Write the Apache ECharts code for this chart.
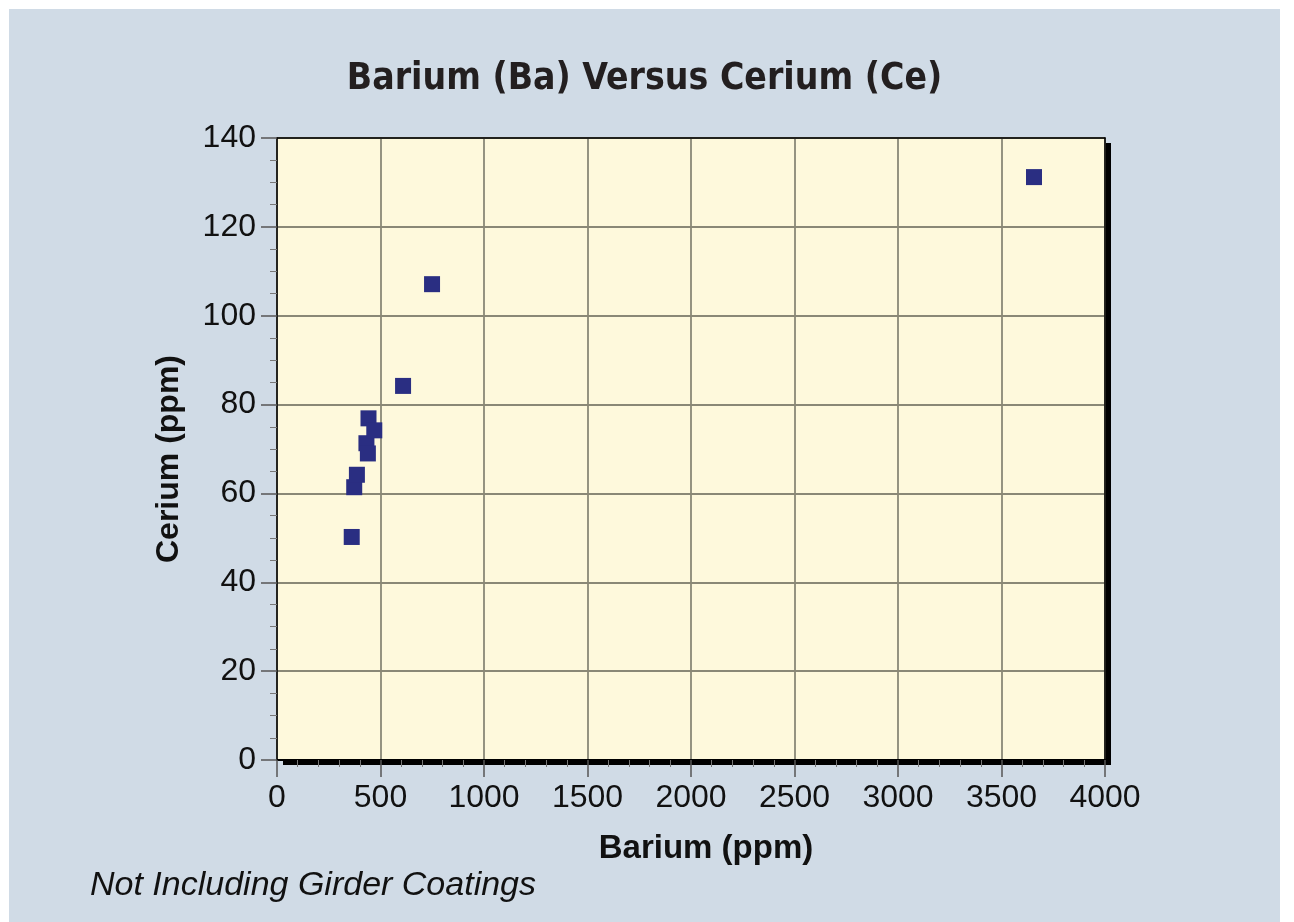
<!DOCTYPE html>
<html>
<head>
<meta charset="utf-8">
<title>Barium (Ba) Versus Cerium (Ce)</title>
<script src="https://cdn.jsdelivr.net/npm/echarts@6/dist/echarts.min.js"></script>
<style>
  html, body { margin: 0; padding: 0; background: #ffffff; }
  #main { position: absolute; left: 9px; top: 9px; width: 1271px; height: 913px; }
</style>
</head>
<body>
<!-- panel for the chart -->
<div id="main"></div>
<script>
// samples
const bariumPpm = [361, 373, 386, 432, 439, 442, 470, 609, 749, 3657];
const ceriumPpm = [50.2, 61.4, 64.2, 71.3, 69.0, 76.9, 74.2, 84.2, 107.1, 131.2];

const chartTitle = 'Barium (Ba) Versus Cerium (Ce)';
const xName = 'Barium (ppm)';
const yName = 'Cerium (ppm)';
const note = 'Not Including Girder Coatings';

const points = bariumPpm.map((b, i) => [b, ceriumPpm[i]]);

var myChart = echarts.init(document.getElementById('main'));

const labelFont = 'Liberation Sans, Arial, sans-serif';
const gridColor = '#8a8876';

// plain frame axes (top / right edges of the plot box)
const frameAxis = {
  type: 'value',
  axisLine: { show: true, onZero: false, lineStyle: { color: '#000', width: 1.5 } },
  axisTick: { show: false },
  axisLabel: { show: false },
  splitLine: { show: false }
};

const option = {
  backgroundColor: '#d0dbe6',
  animation: false,
  title: {
    text: chartTitle,
    left: 'center',
    top: 47,
    textStyle: {
      fontFamily: 'DejaVu Sans Condensed, DejaVu Sans, sans-serif',
      fontWeight: 'bold',
      fontSize: 37,
      color: '#231f20'
    }
  },
  grid: {
    left: 268,
    right: 175,
    top: 129,
    bottom: 162,
    show: true,
    backgroundColor: '#fef9dc',
    borderWidth: 0,
    shadowColor: '#000',
    shadowBlur: 0,
    shadowOffsetX: 6,
    shadowOffsetY: 5
  },
  xAxis: [
    {
      type: 'value',
      min: 0,
      max: 4000,
      interval: 500,
      name: xName,
      nameLocation: 'middle',
      nameGap: 72,
      nameTextStyle: {
        fontFamily: labelFont,
        fontWeight: 'bold',
        fontSize: 33,
        color: '#111',
        padding: [0, 0, 0, 30]
      },
      axisLine: { show: true, onZero: false, lineStyle: { color: '#000', width: 2 } },
      axisTick: { show: true, length: 17, lineStyle: { color: '#555', width: 1.5 } },
      minorTick: { show: true, splitNumber: 5, length: 7, lineStyle: { color: '#777', width: 1 } },
      axisLabel: {
        margin: 22,
        fontFamily: labelFont,
        fontSize: 32,
        color: '#111',
        formatter: function (value) {
          return String(value);
        }
      },
      splitLine: { show: true, lineStyle: { color: gridColor, width: 1.8 } }
    },
    Object.assign({ position: 'top', min: 0, max: 4000 }, frameAxis)
  ],
  yAxis: [
    {
      type: 'value',
      min: 0,
      max: 140,
      interval: 20,
      name: yName,
      nameLocation: 'middle',
      nameGap: 92,
      nameTextStyle: {
        fontFamily: labelFont,
        fontWeight: 'bold',
        fontSize: 32,
        color: '#111',
        padding: [0, 20, 0, 0]
      },
      axisLine: { show: true, onZero: false, lineStyle: { color: '#000', width: 1.5 } },
      axisTick: { show: true, length: 16, lineStyle: { color: '#555', width: 1.5 } },
      minorTick: { show: true, splitNumber: 4, length: 7, lineStyle: { color: '#777', width: 1 } },
      axisLabel: { margin: 21, fontFamily: labelFont, fontSize: 32, color: '#111' },
      splitLine: { show: true, lineStyle: { color: gridColor, width: 1.8 } }
    },
    Object.assign({ position: 'right', min: 0, max: 140 }, frameAxis)
  ],
  graphic: [
    {
      type: 'text',
      left: 81,
      top: 860,
      style: {
        text: note,
        fontFamily: labelFont,
        fontStyle: 'italic',
        fontSize: 34,
        fill: '#111'
      }
    }
  ],
  series: [
    {
      type: 'scatter',
      symbol: 'rect',
      symbolSize: 16,
      data: points,
      itemStyle: { color: '#2a2e82', opacity: 1 }
    }
  ]
};

myChart.setOption(option);

window.addEventListener('resize', function () {
  myChart.resize();
});
</script>
</body>
</html>
